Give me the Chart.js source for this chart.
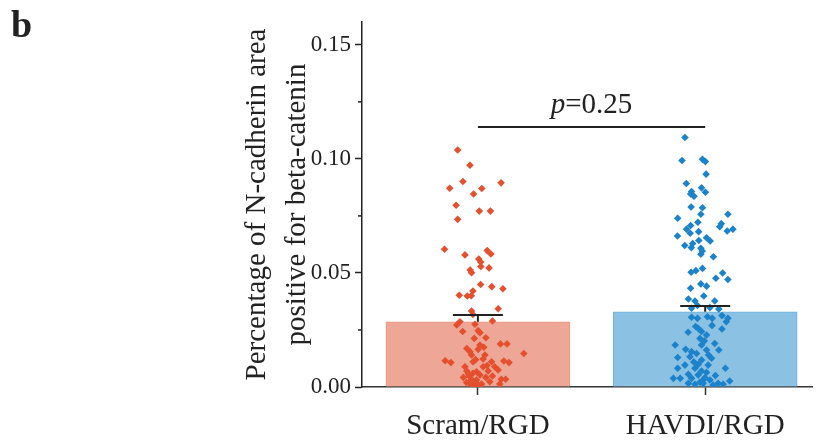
<!DOCTYPE html>
<html>
<head>
<meta charset="utf-8">
<script src="https://cdn.jsdelivr.net/npm/chart.js@4.4.0/dist/chart.umd.min.js"></script>
<style>
  body { margin: 0; background: #fff; }
  #wrap { width: 816px; height: 444px; position: relative; }
</style>
</head>
<body>
<div id="wrap"><canvas id="chart"></canvas></div>
<script>
// groups and bar summary values
var categories = ['Scram/RGD', 'HAVDI/RGD'];
var catX = [1, 2];
var means = [0.0286, 0.0330];
var errTop = [0.0316, 0.0355];
var yTicks = [0, 0.05, 0.10, 0.15];
var yTickLabels = ['0.00', '0.05', '0.10', '0.15'];
var yMinorTicks = [0.025, 0.075, 0.125];
var pLetter = 'p';
var pValue = '=0.25';
var pLineY = 0.114;
var panelLabel = 'b';

// individual points: [x (group position + jitter), y]
var scramPts = [
  [0.911, 0.1039], [0.965, 0.0972], [0.934, 0.0901], [1.102, 0.0895], [0.876, 0.0871],
  [1.017, 0.0870], [0.981, 0.0846], [0.904, 0.0797], [1.006, 0.0771], [1.055, 0.0771],
  [0.911, 0.0735], [0.853, 0.0604], [0.943, 0.0579], [1.041, 0.0598], [1.057, 0.0583],
  [1.004, 0.0561], [1.012, 0.0548], [1.013, 0.0528], [1.049, 0.0522], [0.966, 0.0513],
  [0.972, 0.0501], [1.012, 0.0449], [1.061, 0.0440], [1.110, 0.0431], [0.978, 0.0421],
  [0.918, 0.0402], [0.953, 0.0399], [0.971, 0.0400], [1.089, 0.0343], [0.972, 0.0333],
  [0.978, 0.0318], [0.921, 0.0286], [0.907, 0.0272], [0.987, 0.0275], [1.064, 0.0289],
  [0.933, 0.0243], [1.001, 0.0247], [1.009, 0.0238], [0.984, 0.0213], [1.035, 0.0216],
  [1.099, 0.0189], [1.128, 0.0189], [1.009, 0.0184], [0.951, 0.0169], [1.001, 0.0165],
  [1.026, 0.0174], [1.202, 0.0147], [0.965, 0.0155], [0.972, 0.0140], [1.031, 0.0140],
  [0.856, 0.0115], [0.881, 0.0107], [0.979, 0.0111], [1.023, 0.0123], [1.060, 0.0111],
  [1.114, 0.0114], [1.137, 0.0107], [0.943, 0.0089], [1.023, 0.0089], [1.074, 0.0089],
  [1.089, 0.0075], [0.951, 0.0070], [0.994, 0.0067], [1.045, 0.0070], [0.962, 0.0048],
  [1.009, 0.0053], [1.064, 0.0048], [0.972, 0.0034], [0.994, 0.0031], [1.103, 0.0034],
  [1.122, 0.0034], [1.052, 0.0023], [0.962, 0.0019], [0.987, 0.0016], [1.016, 0.0013],
  [1.096, 0.0013], [0.936, 0.0042], [1.035, 0.0042], [0.978, 0.0060], [0.958, 0.0058],
  [1.000, 0.0010], [0.975, 0.0008], [1.040, 0.0094], [0.990, 0.0120], [0.950, 0.0020]
];
var havdiPts = [
  [1.911, 0.1094], [1.898, 0.0993], [1.988, 0.0998], [2.001, 0.0988], [2.004, 0.0933],
  [1.917, 0.0892], [1.984, 0.0873], [2.001, 0.0854], [1.940, 0.0857], [1.936, 0.0846],
  [1.951, 0.0836], [1.938, 0.0789], [1.988, 0.0786], [1.981, 0.0757], [2.100, 0.0757],
  [1.879, 0.0740], [1.968, 0.0722], [2.071, 0.0716], [2.064, 0.0703], [1.936, 0.0708],
  [1.918, 0.0692], [2.097, 0.0684], [2.122, 0.0692], [1.934, 0.0674], [1.971, 0.0681],
  [1.878, 0.0662], [2.006, 0.0654], [2.022, 0.0640], [1.972, 0.0642], [1.945, 0.0629],
  [1.910, 0.0620], [1.939, 0.0611], [1.981, 0.0608], [1.987, 0.0596], [1.981, 0.0582],
  [2.036, 0.0571], [1.938, 0.0503], [1.959, 0.0510], [1.988, 0.0520], [2.077, 0.0500],
  [2.047, 0.0477], [2.100, 0.0471], [1.981, 0.0452], [2.006, 0.0442], [1.936, 0.0433],
  [1.994, 0.0399], [1.926, 0.0386], [1.955, 0.0377], [2.042, 0.0377], [1.940, 0.0345],
  [2.021, 0.0348], [2.060, 0.0342], [1.966, 0.0357], [1.940, 0.0306], [1.966, 0.0301],
  [2.010, 0.0308], [2.031, 0.0301], [2.074, 0.0313], [2.100, 0.0301], [2.093, 0.0286],
  [1.958, 0.0265], [1.969, 0.0257], [2.074, 0.0254], [1.984, 0.0243], [2.006, 0.0228],
  [1.977, 0.0213], [1.996, 0.0202], [1.868, 0.0184], [1.984, 0.0184], [2.042, 0.0191],
  [1.914, 0.0165], [1.940, 0.0155], [2.006, 0.0162], [2.060, 0.0162], [1.962, 0.0147],
  [1.879, 0.0129], [1.933, 0.0133], [1.984, 0.0118], [2.028, 0.0126], [1.911, 0.0096],
  [1.969, 0.0099], [2.013, 0.0096], [1.879, 0.0082], [1.955, 0.0082], [2.089, 0.0082],
  [1.984, 0.0070], [1.926, 0.0056], [1.969, 0.0053], [2.006, 0.0064], [1.860, 0.0038],
  [1.890, 0.0038], [1.940, 0.0038], [1.999, 0.0041], [2.021, 0.0031], [2.108, 0.0026],
  [2.057, 0.0016], [1.926, 0.0016], [1.977, 0.0021], [2.079, 0.0012], [2.035, 0.0009],
  [1.955, 0.0012], [1.991, 0.0016], [1.950, 0.0110], [2.015, 0.0140], [1.990, 0.0030],
  [2.045, 0.0050], [1.925, 0.0240], [2.030, 0.0270]
];

var serif = "'Liberation Serif', 'Times New Roman', serif";
var ink = '#222';

function toXY(arr) {
  return arr.map(function(p) { return {x: p[0], y: p[1]}; });
}

// error bars, significance line, minor ticks, panel letter
var extras = {
  id: 'extras',
  afterDatasetsDraw: function(chart) {
    var ctx = chart.ctx;
    var xs = chart.scales.x, ys = chart.scales.y;
    ctx.save();
    ctx.strokeStyle = ink;
    ctx.lineWidth = 2;
    for (var i = 0; i < catX.length; i++) {
      var px = xs.getPixelForValue(catX[i]);
      var yb = ys.getPixelForValue(means[i]);
      var yt = ys.getPixelForValue(errTop[i]);
      ctx.beginPath();
      ctx.moveTo(px, yb);
      ctx.lineTo(px, yt);
      ctx.moveTo(px - 25, yt);
      ctx.lineTo(px + 25, yt);
      ctx.stroke();
    }
    // significance bar
    var x1 = xs.getPixelForValue(catX[0]);
    var x2 = xs.getPixelForValue(catX[1]);
    var ly = ys.getPixelForValue(pLineY);
    ctx.beginPath();
    ctx.moveTo(x1, ly);
    ctx.lineTo(x2, ly);
    ctx.stroke();
    // minor ticks on y
    ctx.lineWidth = 1.5;
    var left = chart.chartArea.left;
    yMinorTicks.forEach(function(v) {
      var y = ys.getPixelForValue(v);
      ctx.beginPath();
      ctx.moveTo(left - 4, y);
      ctx.lineTo(left, y);
      ctx.stroke();
    });
    ctx.fillStyle = ink;
    ctx.textBaseline = 'alphabetic';
    ctx.textAlign = 'left';
    ctx.font = 'italic 29px ' + serif;
    var w1 = ctx.measureText(pLetter).width;
    ctx.font = '29px ' + serif;
    var w2 = ctx.measureText(pValue).width;
    var sx = (x1 + x2) / 2 - (w1 + w2) / 2;
    ctx.font = 'italic 29px ' + serif;
    ctx.fillText(pLetter, sx, ly - 14);
    ctx.font = '29px ' + serif;
    ctx.fillText(pValue, sx + w1, ly - 14);
    // panel letter
    ctx.font = 'bold 38px ' + serif;
    ctx.fillText(panelLabel, 11, 37);
    ctx.restore();
  }
};

var ctx = document.getElementById('chart').getContext('2d');
new Chart(ctx, {
  type: 'scatter',
  data: {
    datasets: [
      {
        type: 'scatter',
        data: toXY(scramPts),
        pointStyle: 'rectRot',
        pointRadius: 3.8,
        backgroundColor: '#E4502E',
        borderColor: '#E4502E',
        borderWidth: 0,
        order: 1
      },
      {
        type: 'scatter',
        data: toXY(havdiPts),
        pointStyle: 'rectRot',
        pointRadius: 3.8,
        backgroundColor: '#1C83CA',
        borderColor: '#1C83CA',
        borderWidth: 0,
        order: 1
      },
      {
        type: 'bar',
        data: catX.map(function(x, i) { return {x: x, y: means[i]}; }),
        backgroundColor: ['#EEA797', '#8BC1E3'],
        borderColor: ['#E8957F', '#6CB0DE'],
        borderWidth: 1,
        barThickness: 184,
        order: 3
      }
    ]
  },
  options: {
    responsive: true,
    maintainAspectRatio: false,
    animation: false,
    layout: { padding: { left: 0, right: 3, top: 22, bottom: 0 } },
    plugins: {
      legend: { display: false },
      tooltip: { enabled: false }
    },
    scales: {
      x: {
        type: 'linear',
        min: 0.49,
        max: 2.47,
        offset: false,
        afterBuildTicks: function(s) { s.ticks = catX.map(function(v) { return {value: v}; }); },
        afterFit: function(s) { s.height = 57; },
        border: { color: '#333', width: 1.5 },
        grid: { offset: false, drawOnChartArea: false, tickLength: 8, tickColor: '#333', tickWidth: 1.5 },
        ticks: {
          color: ink,
          padding: 14,
          maxRotation: 0,
          font: { family: serif, size: 29 },
          callback: function(v, i) { return categories[i]; }
        }
      },
      y: {
        min: 0,
        max: 0.16,
        afterBuildTicks: function(s) { s.ticks = yTicks.map(function(v) { return {value: v}; }); },
        afterFit: function(s) { s.width = 362; },
        border: { color: ink, width: 1.5 },
        grid: { drawOnChartArea: false, tickLength: 7, tickColor: ink, tickWidth: 1.5 },
        ticks: {
          color: ink,
          padding: 4,
          font: { family: serif, size: 23 },
          callback: function(v, i) { return yTickLabels[i]; }
        },
        title: {
          display: true,
          text: ['Percentage of N-cadherin area', 'positive for beta-catenin'],
          color: ink,
          font: { family: serif, size: 29, lineHeight: 1.38 },
          padding: { top: 237, bottom: 0 }
        }
      }
    }
  },
  plugins: [extras]
});
</script>
</body>
</html>
